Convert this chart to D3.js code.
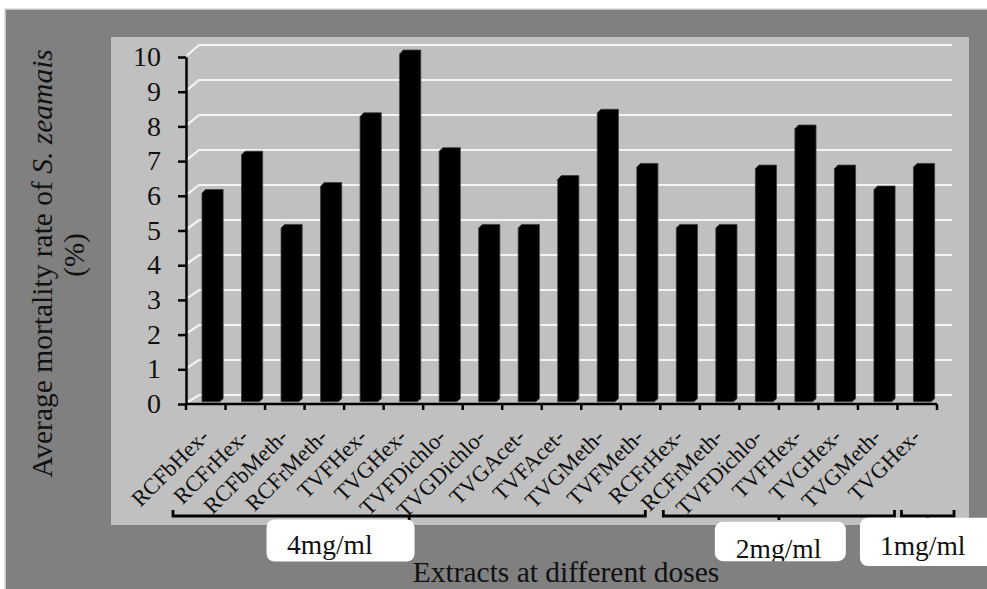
<!DOCTYPE html>
<html><head><meta charset="utf-8">
<script src="https://cdn.jsdelivr.net/npm/d3@7/dist/d3.min.js"></script>
<style>
html,body{margin:0;padding:0;background:#fff;}
svg{display:block;}
text{font-family:"Liberation Serif","Times New Roman",serif;fill:#111;}
</style></head>
<body>
<svg id="c" width="987" height="589"></svg>
<script>
const categories = ["RCFbHex-","RCFrHex-","RCFbMeth-","RCFrMeth-","TVFHex-","TVGHex-","TVFDichlo-","TVGDichlo-","TVGAcet-","TVFAcet-","TVGMeth-","TVFMeth-","RCFrHex-","RCFrMeth-","TVFDichlo-","TVFHex-","TVGHex-","TVGMeth-","TVGHex-"];
const values = [6, 7.1, 5, 6.2, 8.2, 10, 7.2, 5, 5, 6.4, 8.3, 6.75, 5, 5, 6.7, 7.85, 6.7, 6.1, 6.75];
const yTicks = [0,1,2,3,4,5,6,7,8,9,10];
const groupLabels = ["4mg/ml","2mg/ml","1mg/ml"];
const groupSizes = [12, 6, 1];
const yTitle = ["Average mortality rate of ", "S. zeamais"];
const yTitle2 = "(%)";
const xTitle = "Extracts at different doses";

const svg = d3.select("#c");
const keys = categories.map((c,i)=>i);

// frame
svg.append("rect").attr("x",5).attr("y",9).attr("width",990).attr("height",590)
  .attr("fill","#808080").attr("stroke","#d8d8d8").attr("stroke-width",1.5);
svg.append("rect").attr("x",111).attr("y",37).attr("width",858).attr("height",488).attr("fill","#c0c0c0");

// scales
const x = d3.scaleBand().domain(keys).range([186, 937]).paddingInner(0).paddingOuter(0);
const bw = x.bandwidth();
const yF = d3.scaleLinear().domain([0,10]).range([404, 57]);   // front plane
const yB = d3.scaleLinear().domain([0,10]).range([395, 45]);   // back wall
const wallDx = 12;

// gridlines (3D back wall)
const grid = svg.append("g");
yTicks.forEach(t=>{
  grid.append("path")
    .attr("d", `M${187},${yF(t)-1.5} L${186+wallDx+1},${yB(t)} L952,${yB(t)}`)
    .attr("fill","none").attr("stroke","#f4f4f4").attr("stroke-width",2.2);
});

// bars
const t1 = 0.25, t2 = 0.58;
const yfr = v => yF(v) + t1*(yB(v)-yF(v));
const ybk = v => yF(v) + t2*(yB(v)-yF(v));
const barOff = 16, barW = 17.5, depthDx = (t2-t1)*11;
svg.append("g").selectAll("path").data(values).join("path")
  .attr("d",(v,i)=>{
    const xl = x(i)+barOff;
    return `M${xl},${yfr(0)} L${xl},${yfr(v)} L${xl+depthDx},${ybk(v)} L${xl+depthDx+barW},${ybk(v)} L${xl+depthDx+barW},${ybk(0)} L${xl+barW},${yfr(0)} Z`;
  })
  .attr("fill","#000").attr("stroke","#3a3a3a").attr("stroke-width",0.8).attr("stroke-linejoin","round");

// y axis
const yAxis = svg.append("g").attr("transform","translate(186,0)")
  .call(d3.axisLeft(yF).tickValues(yTicks).tickSize(8).tickSizeOuter(0).tickPadding(17).tickFormat(d3.format("d")));
yAxis.select(".domain").attr("stroke","#000").attr("stroke-width",2.5);
yAxis.selectAll(".tick line").attr("stroke","#000").attr("stroke-width",2.5);
yAxis.selectAll(".tick text").attr("font-size",28).attr("font-family","Liberation Serif, serif")
  .attr("fill","#111").attr("dy","0.31em");

// x axis line and ticks
const xa = svg.append("g");
xa.append("line").attr("x1",186).attr("x2",937).attr("y1",404).attr("y2",404)
  .attr("stroke","#000").attr("stroke-width",2.5);
const bounds = keys.map(k=>x(k)).concat([x(keys[keys.length-1])+bw]);
xa.selectAll("line.t").data(bounds).join("line").attr("class","t")
  .attr("x1",d=>d).attr("x2",d=>d).attr("y1",404).attr("y2",410)
  .attr("stroke","#000").attr("stroke-width",2.5);

// x labels
svg.append("g").selectAll("text").data(categories).join("text")
  .attr("transform",(d,i)=>`translate(${x(i)+bw/2+4.5},438) rotate(-45)`)
  .attr("text-anchor","end").attr("font-size",22.5).attr("fill","#222").text(d=>d);

// brackets
let start = 0;
const br = [];
groupSizes.forEach((n,gi)=>{ br.push([start, start+n]); start += n; });
const brX = [
  [x(br[0][0]) - 13, x(br[0][1]) - 15],
  [x(br[1][0]) + 3, x(br[1][1]) - 3],
  [x(br[2][0]) + 4, x(br[2][0]) + bw + 17]
];
const bg = svg.append("g").attr("fill","none").attr("stroke","#000").attr("stroke-width",2.8);
brX.forEach(([a,b])=>{
  bg.append("path").attr("d",`M${a},510 L${a},516 L${b},516 L${b},510`);
  bg.append("path").attr("d",`M${(a+b)/2},516 L${(a+b)/2},520`);
});

// group label boxes
const boxes = [
  {x0: x(2)+1.5, w:148, y0:519.5, h:42, tx: x(2)+22, ty:554},
  {x0: x(13)+15, w:131, y0:521.7, h:39.5, tx: x(13)+36, ty:558},
  {x0: x(17)+2, w:140, y0:517.7, h:48.3, tx: x(17)+22, ty:555}
];
const lg = svg.append("g");
boxes.forEach((b,i)=>{
  const cp = "cp"+i;
  lg.append("clipPath").attr("id",cp).append("rect").attr("x",b.x0).attr("y",b.y0).attr("width",b.w).attr("height",b.h);
  lg.append("rect").attr("x",b.x0).attr("y",b.y0).attr("width",b.w).attr("height",b.h)
    .attr("rx",8).attr("fill","#fff");
  lg.append("text").attr("x",b.tx).attr("y",b.ty).attr("font-size",27.5).attr("fill","#111")
    .attr("clip-path",`url(#${cp})`).text(groupLabels[i]);
});

// x title
svg.append("text").attr("x",566).attr("y",581.5).attr("text-anchor","middle")
  .attr("font-size",29.5).attr("fill","#1a1a1a").text(xTitle);

// y title
const yt = svg.append("text").attr("transform","translate(52,263.5) rotate(-90)")
  .attr("text-anchor","middle").attr("font-size",29.5).attr("fill","#1a1a1a");
yt.append("tspan").text(yTitle[0]);
yt.append("tspan").attr("font-style","italic").text(yTitle[1]);
svg.append("text").attr("transform","translate(84,255) rotate(-90)")
  .attr("text-anchor","middle").attr("font-size",29).attr("fill","#1a1a1a").text(yTitle2);
</script>
</body></html>
